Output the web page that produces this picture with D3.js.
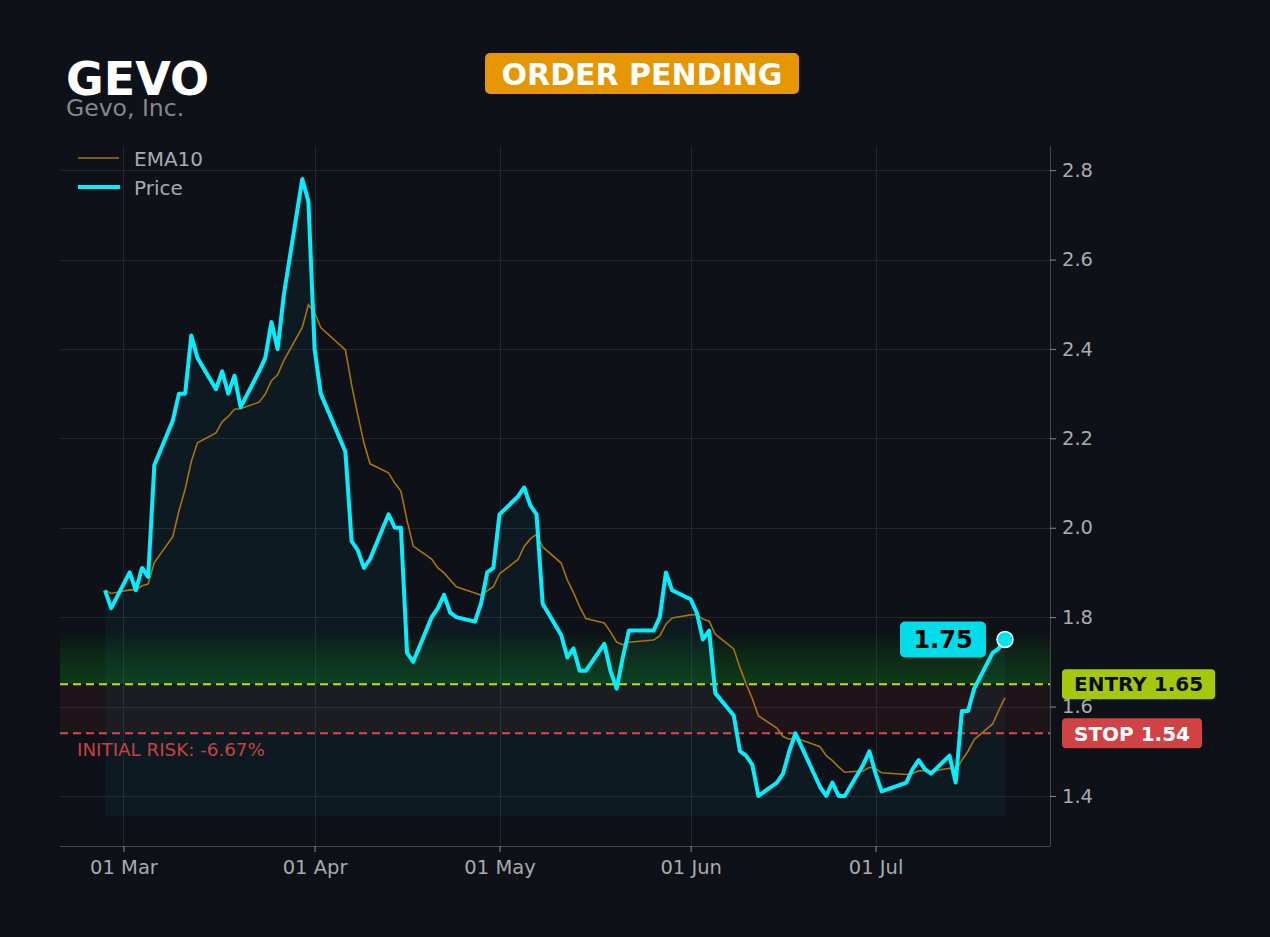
<!DOCTYPE html>
<html lang="en">
<head>
<meta charset="UTF-8">
<title>GEVO - Order Pending</title>
<script src="https://d3js.org/d3.v7.min.js"></script>
<style>
  html, body { margin: 0; padding: 0; background: #0e1117; }
  body { font-family: "DejaVu Sans", sans-serif; }
  svg text { font-family: "DejaVu Sans", sans-serif; }
</style>
</head>
<body>
<div id="chart"></div>
<script>
// ---- data ----
const ticker = "GEVO";
const companyName = "Gevo, Inc.";
const status = "ORDER PENDING";
const entryPrice = 1.65;
const stopPrice = 1.54;
const riskText = "INITIAL RISK: -6.67%";
const yTicks = [1.4, 1.6, 1.8, 2.0, 2.2, 2.4, 2.6, 2.8];

const dates = [
  "2026-02-26", "2026-02-27",
  "2026-03-02", "2026-03-03", "2026-03-04", "2026-03-05", "2026-03-06",
  "2026-03-09", "2026-03-10", "2026-03-11", "2026-03-12", "2026-03-13",
  "2026-03-16", "2026-03-17", "2026-03-18", "2026-03-19", "2026-03-20",
  "2026-03-23", "2026-03-24", "2026-03-25", "2026-03-26", "2026-03-27",
  "2026-03-30", "2026-03-31", "2026-04-01", "2026-04-02",
  "2026-04-06", "2026-04-07", "2026-04-08", "2026-04-09", "2026-04-10",
  "2026-04-13", "2026-04-14", "2026-04-15", "2026-04-16", "2026-04-17",
  "2026-04-20", "2026-04-21", "2026-04-22", "2026-04-23", "2026-04-24",
  "2026-04-27", "2026-04-28", "2026-04-29", "2026-04-30", "2026-05-01",
  "2026-05-04", "2026-05-05", "2026-05-06", "2026-05-07", "2026-05-08",
  "2026-05-11", "2026-05-12", "2026-05-13", "2026-05-14", "2026-05-15",
  "2026-05-18", "2026-05-19", "2026-05-20", "2026-05-21", "2026-05-22",
  "2026-05-26", "2026-05-27", "2026-05-28", "2026-05-29",
  "2026-06-01", "2026-06-02", "2026-06-03", "2026-06-04", "2026-06-05",
  "2026-06-08", "2026-06-09", "2026-06-10", "2026-06-11", "2026-06-12",
  "2026-06-15", "2026-06-16", "2026-06-17", "2026-06-18",
  "2026-06-22", "2026-06-23", "2026-06-24", "2026-06-25", "2026-06-26",
  "2026-06-29", "2026-06-30", "2026-07-01", "2026-07-02",
  "2026-07-06", "2026-07-07", "2026-07-08", "2026-07-09", "2026-07-10",
  "2026-07-13", "2026-07-14", "2026-07-15", "2026-07-16", "2026-07-17",
  "2026-07-20", "2026-07-21", "2026-07-22"
];

const price = [
  1.86, 1.82,
  1.90, 1.86, 1.91, 1.89, 2.14,
  2.24, 2.30, 2.30, 2.43, 2.38,
  2.31, 2.35, 2.30, 2.34, 2.27,
  2.35, 2.38, 2.46, 2.40, 2.52,
  2.78, 2.73, 2.40, 2.30,
  2.17, 1.97, 1.95, 1.91, 1.93,
  2.03, 2.00, 2.00, 1.72, 1.70,
  1.80, 1.82, 1.85, 1.81, 1.80,
  1.79, 1.83, 1.90, 1.91, 2.03,
  2.07, 2.09, 2.05, 2.03, 1.83,
  1.76, 1.71, 1.73, 1.68, 1.68,
  1.74, 1.68, 1.64, 1.71, 1.77,
  1.77, 1.80, 1.90, 1.86,
  1.84, 1.81, 1.75, 1.77, 1.63,
  1.58, 1.50, 1.49, 1.47, 1.40,
  1.43, 1.45, 1.50, 1.54,
  1.42, 1.40, 1.43, 1.40, 1.40,
  1.47, 1.50, 1.45, 1.41,
  1.43, 1.46, 1.48, 1.46, 1.45,
  1.49, 1.43, 1.59, 1.59, 1.64,
  1.72, 1.73, 1.75
];

const ema10 = [
  1.860, 1.853,
  1.861, 1.861, 1.870, 1.874, 1.922,
  1.980, 2.038, 2.086, 2.148, 2.190,
  2.212, 2.237, 2.249, 2.265, 2.266,
  2.281, 2.299, 2.329, 2.342, 2.374,
  2.448, 2.499, 2.481, 2.448,
  2.398, 2.320, 2.253, 2.190, 2.143,
  2.123, 2.100, 2.082, 2.016, 1.959,
  1.930, 1.910, 1.899, 1.883, 1.868,
  1.854, 1.849, 1.859, 1.868, 1.897,
  1.929, 1.958, 1.975, 1.985, 1.957,
  1.921, 1.883, 1.855, 1.823, 1.797,
  1.787, 1.767, 1.744, 1.738, 1.744,
  1.749, 1.758, 1.784, 1.798,
  1.805, 1.806, 1.796, 1.791, 1.762,
  1.729, 1.687, 1.651, 1.618, 1.579,
  1.552, 1.533, 1.527, 1.530,
  1.510, 1.490, 1.479, 1.465, 1.453,
  1.456, 1.464, 1.461, 1.452,
  1.448, 1.450, 1.456, 1.457, 1.455,
  1.462, 1.456, 1.480, 1.500, 1.526,
  1.561, 1.592, 1.620
];

// ---- layout ----
const W = 1270, H = 937;
const plot = { left: 60, right: 1050, top: 146, bottom: 846 };
const areaBase = 1.355;
const greenTop = 1.765;

const parse = d3.timeParse("%Y-%m-%d");
const rows = dates.map((d, i) => ({ date: parse(d), price: price[i], ema: ema10[i] }));

const first = rows[0].date, last = rows[rows.length - 1].date;
const pad = (last - first) * 0.05;
const x = d3.scaleTime()
  .domain([new Date(+first - pad), new Date(+last + pad)])
  .range([plot.left, plot.right]);

const y = d3.scaleLinear()
  .domain([1.288, 2.854])
  .range([plot.bottom, plot.top]);

const svg = d3.select("#chart").append("svg")
  .attr("width", W).attr("height", H)
  .style("display", "block");

svg.append("rect").attr("width", W).attr("height", H).attr("fill", "#0e1117");

// grid
const monthTicks = d3.timeMonth.range(d3.timeMonth.ceil(x.domain()[0]), x.domain()[1]);
const grid = svg.append("g").attr("stroke", "#22262d").attr("stroke-width", 1);
grid.selectAll("line.h").data(yTicks).join("line")
  .attr("x1", plot.left).attr("x2", plot.right)
  .attr("y1", d => Math.round(y(d)) + 0.5).attr("y2", d => Math.round(y(d)) + 0.5);
grid.selectAll("line.v").data(monthTicks).join("line")
  .attr("y1", plot.top).attr("y2", plot.bottom)
  .attr("x1", d => Math.round(x(d)) + 0.5).attr("x2", d => Math.round(x(d)) + 0.5);

// green zone above entry, stepped bands
const nBands = 12;
const bands = d3.range(nBands).map(i => entryPrice + (greenTop - entryPrice) * (i + 1) / nBands);
svg.append("g").selectAll("rect").data(bands).join("rect")
  .attr("x", plot.left).attr("width", plot.right - plot.left)
  .attr("y", d => y(d)).attr("height", d => y(entryPrice) - y(d))
  .attr("fill", "#34c830").attr("fill-opacity", 0.028);

// risk zone between entry and stop
svg.append("rect")
  .attr("x", plot.left).attr("width", plot.right - plot.left)
  .attr("y", y(entryPrice)).attr("height", y(stopPrice) - y(entryPrice))
  .attr("fill", "#e03c3c").attr("fill-opacity", 0.08);

// area under price
const area = d3.area()
  .x(d => x(d.date)).y0(y(areaBase)).y1(d => y(d.price));
svg.append("path").datum(rows)
  .attr("d", area)
  .attr("fill", "#00e5ff").attr("fill-opacity", 0.045);

// entry & stop lines
svg.append("line")
  .attr("x1", plot.left).attr("x2", plot.right)
  .attr("y1", y(entryPrice)).attr("y2", y(entryPrice))
  .attr("stroke", "#c0e010").attr("stroke-width", 2).attr("stroke-dasharray", "8,5");
svg.append("line")
  .attr("x1", plot.left).attr("x2", plot.right)
  .attr("y1", y(stopPrice)).attr("y2", y(stopPrice))
  .attr("stroke", "#e04848").attr("stroke-width", 2).attr("stroke-dasharray", "8,5");

svg.append("text")
  .attr("x", 77).attr("y", y(stopPrice) + 23)
  .attr("fill", "#c8423f").attr("font-size", 18.3)
  .text(riskText);

// EMA and price
svg.append("path").datum(rows)
  .attr("d", d3.line().x(d => x(d.date)).y(d => y(d.ema)))
  .attr("fill", "none").attr("stroke", "#a8740e").attr("stroke-width", 1.6);

svg.append("path").datum(rows)
  .attr("d", d3.line().x(d => x(d.date)).y(d => y(d.price)))
  .attr("fill", "none").attr("stroke", "#00f0ff").attr("stroke-width", 4)
  .attr("stroke-linejoin", "round");

// axes
const axisColor = "#45494f";
svg.append("line").attr("x1", plot.left).attr("x2", plot.right)
  .attr("y1", plot.bottom + 0.5).attr("y2", plot.bottom + 0.5).attr("stroke", axisColor);
svg.append("line").attr("x1", plot.right + 0.5).attr("x2", plot.right + 0.5)
  .attr("y1", plot.top).attr("y2", plot.bottom).attr("stroke", axisColor);

const yAxis = svg.append("g").attr("transform", `translate(${plot.right},0)`)
  .call(d3.axisRight(y).tickValues(yTicks).tickFormat(d3.format(".1f")).tickSize(6).tickPadding(6));
const xAxis = svg.append("g").attr("transform", `translate(0,${plot.bottom})`)
  .call(d3.axisBottom(x).tickValues(monthTicks).tickFormat(d3.timeFormat("%d %b")).tickSize(6).tickPadding(8));
[yAxis, xAxis].forEach(g => {
  g.select(".domain").remove();
  g.selectAll("line").attr("stroke", "#8a8d92");
  g.selectAll("text").attr("fill", "#a8abb0").attr("font-size", 19.5)
    .attr("font-family", "DejaVu Sans, sans-serif");
});

// price labels on the right
function tag(label, yv, fill, textFill) {
  const g = svg.append("g");
  const t = g.append("text")
    .attr("x", 1074).attr("y", y(yv)).attr("dy", "0.36em")
    .attr("font-size", 20).attr("font-weight", "bold").attr("fill", textFill)
    .text(label);
  const w = t.node().getComputedTextLength();
  g.insert("rect", "text")
    .attr("x", 1062).attr("y", y(yv) - 15).attr("width", w + 24).attr("height", 30)
    .attr("rx", 4).attr("fill", fill);
}
tag("ENTRY " + entryPrice.toFixed(2), entryPrice, "#a6c80c", "#0b0b0b");
tag("STOP " + stopPrice.toFixed(2), stopPrice, "#d04243", "#ffffff");

// current price marker
const lastRow = rows[rows.length - 1];
const lx = x(lastRow.date), ly = y(lastRow.price);
svg.append("circle").attr("cx", lx).attr("cy", ly).attr("r", 8)
  .attr("fill", "#00e5f0").attr("stroke", "#ffffff").attr("stroke-width", 1.5);
const cur = svg.append("g");
cur.append("text")
  .attr("x", lx - 62).attr("y", ly).attr("dy", "0.36em")
  .attr("text-anchor", "middle").attr("font-size", 24).attr("font-weight", "bold")
  .attr("fill", "#000000").text(lastRow.price.toFixed(2));
cur.insert("rect", "text")
  .attr("x", lx - 105).attr("y", ly - 18).attr("width", 86).attr("height", 36)
  .attr("rx", 5).attr("fill", "#00dce8");

// legend
const legend = svg.append("g");
legend.append("line").attr("x1", 78).attr("x2", 119).attr("y1", 158).attr("y2", 158)
  .attr("stroke", "#a8740e").attr("stroke-width", 1.6);
legend.append("line").attr("x1", 78).attr("x2", 120).attr("y1", 187).attr("y2", 187)
  .attr("stroke", "#00f0ff").attr("stroke-width", 4);
legend.append("text").attr("x", 134).attr("y", 159).attr("dy", "0.36em")
  .attr("fill", "#a8abb0").attr("font-size", 20).text("EMA10");
legend.append("text").attr("x", 134).attr("y", 188).attr("dy", "0.36em")
  .attr("fill", "#a8abb0").attr("font-size", 20).text("Price");

// header
svg.append("text").attr("x", 66).attr("y", 95)
  .attr("fill", "#ffffff").attr("font-size", 46).attr("font-weight", "bold").text(ticker);
svg.append("text").attr("x", 66).attr("y", 116)
  .attr("fill", "#85888d").attr("font-size", 23.5).text(companyName);

const badge = svg.append("g");
badge.append("rect").attr("x", 485).attr("y", 53).attr("width", 314).attr("height", 41)
  .attr("rx", 5).attr("fill", "#e69600");
badge.append("text").attr("x", 642).attr("y", 74).attr("dy", "0.36em")
  .attr("text-anchor", "middle").attr("fill", "#ffffff")
  .attr("font-size", 30).attr("font-weight", "bold").text(status);
</script>
</body>
</html>
